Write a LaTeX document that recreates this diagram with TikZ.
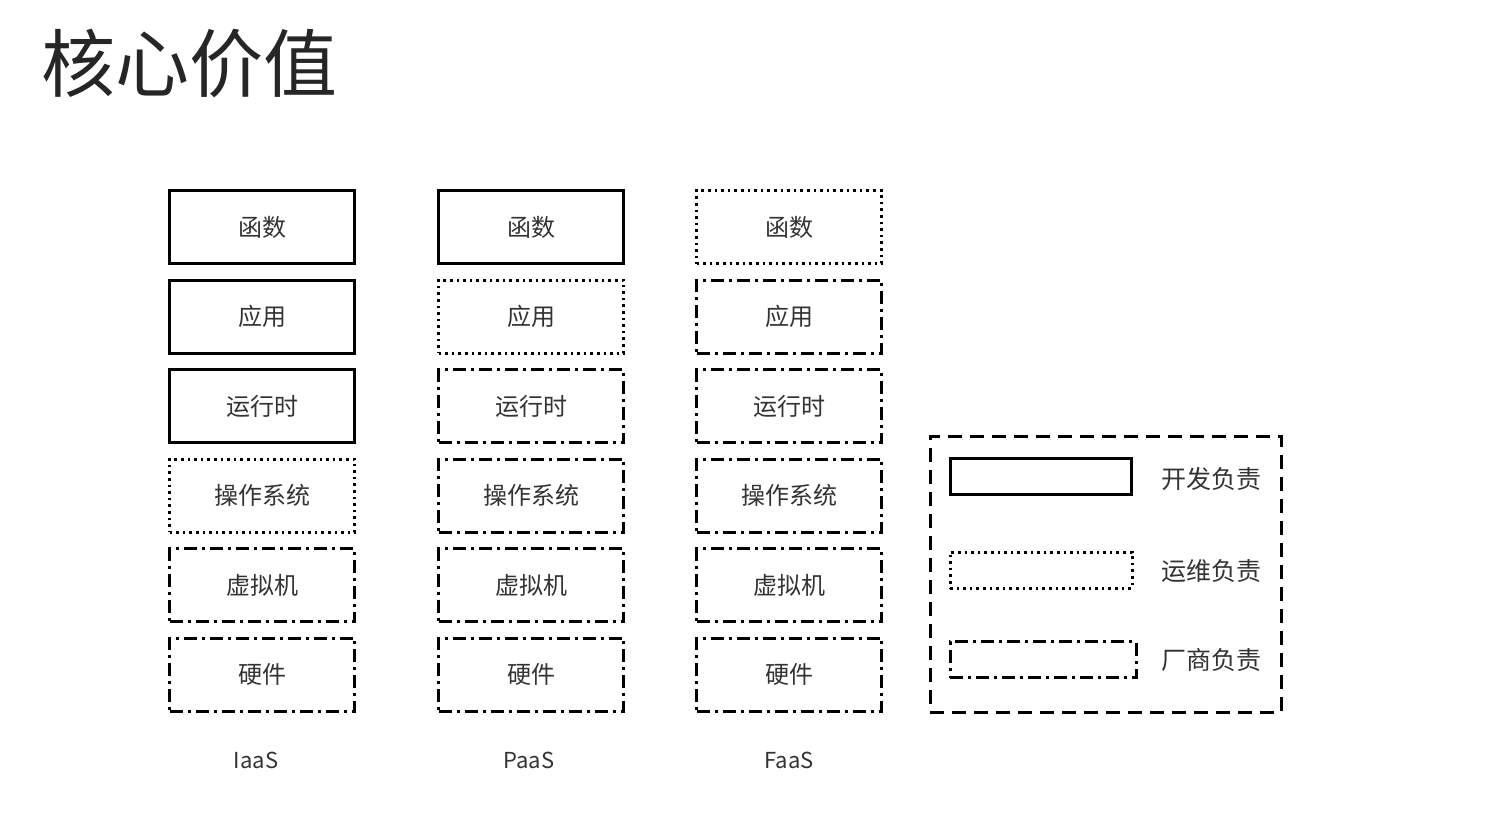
\documentclass[tikz,border=0pt]{standalone}
\usepackage{fontspec}
\setmainfont{Noto Sans CJK SC}
\usetikzlibrary{positioning}

\tikzset{
	layer/.style={rectangle, minimum width=185pt, minimum height=73pt, line width=3pt, text=black!80, font=\fontsize{24}{26}\selectfont},
	dev/.style={layer, draw},
	ops/.style={layer, draw, dash pattern=on 2.6pt off 4pt},
	vendor/.style={layer, draw, dash pattern=on 13pt off 5pt on 3pt off 5pt},
	keybox/.style={rectangle, minimum height=36pt, line width=3pt, draw},
	caption/.style={text=black!80, font=\fontsize{22}{24}\selectfont},
}

\begin{document}
\begin{tikzpicture}[x=1pt, y=-1pt, node distance=13.5pt]
	\useasboundingbox (0,0) rectangle (1494,812);
	\node[anchor=west, text=black!85, font=\fontsize{74}{80}\selectfont] (title) at (38,64) {核心价值};
	
	% IaaS
	\node[dev] (i1) at (262,227) {函数};
	\node[dev] (i2) [below=of i1] {应用};
	\node[dev] (i3) [below=of i2] {运行时};
	\node[ops] (i4) [below=of i3] {操作系统};
	\node[vendor] (i5) [below=of i4] {虚拟机};
	\node[vendor] (i6) [below=of i5] {硬件};
	\node[caption] (iaas) at (256,760) {IaaS};
	
	% PaaS
	\node[dev] (p1) at (531,227) {函数};
	\node[ops] (p2) [below=of p1] {应用};
	\node[vendor] (p3) [below=of p2] {运行时};
	\node[vendor] (p4) [below=of p3] {操作系统};
	\node[vendor] (p5) [below=of p4] {虚拟机};
	\node[vendor] (p6) [below=of p5] {硬件};
	\node[caption] (paas) at (529,760) {PaaS};
	
	% FaaS
	\node[ops] (f1) at (789,227) {函数};
	\node[vendor] (f2) [below=of f1] {应用};
	\node[vendor] (f3) [below=of f2] {运行时};
	\node[vendor] (f4) [below=of f3] {操作系统};
	\node[vendor] (f5) [below=of f4] {虚拟机};
	\node[vendor] (f6) [below=of f5] {硬件};
	\node[caption] (faas) at (789,760) {FaaS};
	
	% legend
	\node[rectangle, draw, line width=3pt, dash pattern=on 14pt off 8pt, minimum width=351pt, minimum height=276pt] (legend) at (1105.5,574) {};
	\node[keybox, minimum width=181pt] (kdev) at (1040.5,476) {};
	\node[keybox, minimum width=182pt, dash pattern=on 2.6pt off 4pt] (kops) at (1041,570) {};
	\node[keybox, minimum width=186pt, dash pattern=on 13pt off 5pt on 3pt off 5pt] (kvendor) at (1043,659.5) {};
	\node[layer, draw=none, minimum width=0pt, minimum height=0pt, font=\fontsize{25}{27}\selectfont] (ldev) at (1211,479) {开发负责};
	\node[layer, draw=none, minimum width=0pt, minimum height=0pt, font=\fontsize{25}{27}\selectfont] (lops) at (1211,571) {运维负责};
	\node[layer, draw=none, minimum width=0pt, minimum height=0pt, font=\fontsize{25}{27}\selectfont] (lvendor) at (1211,660) {厂商负责};
\end{tikzpicture}
\end{document}
